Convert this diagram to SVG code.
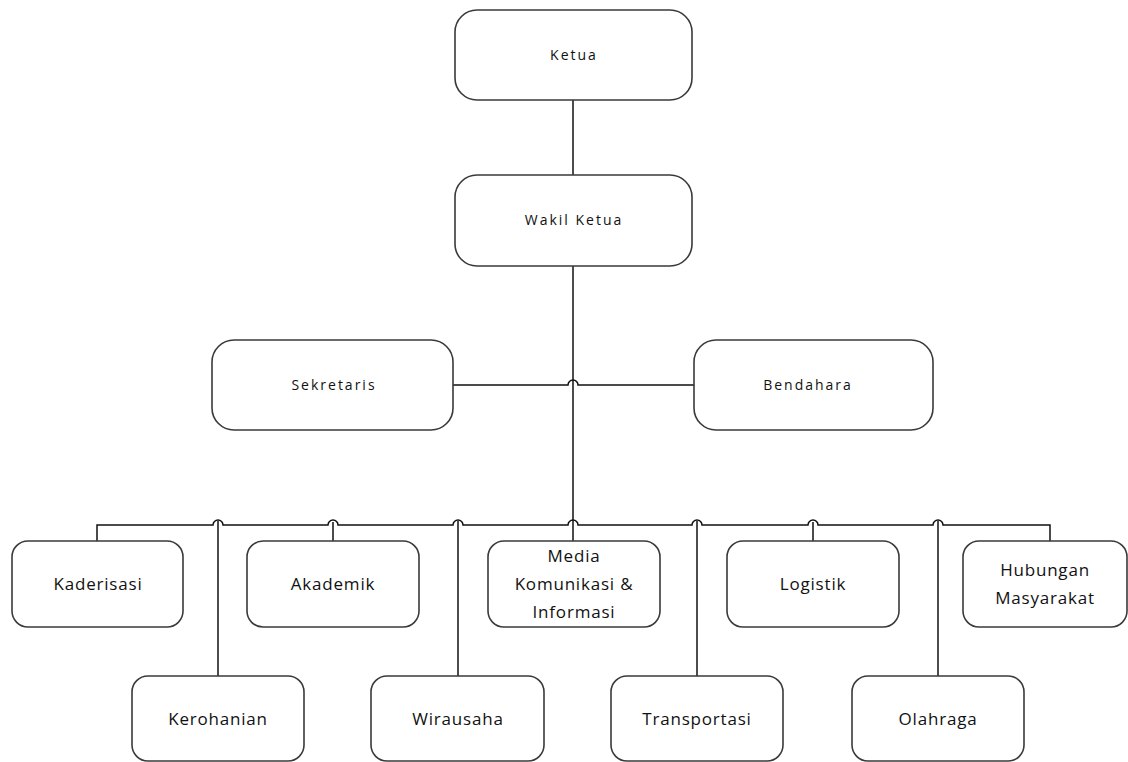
<svg xmlns="http://www.w3.org/2000/svg" width="1128" height="762" viewBox="0 0 1128 762">
<style>
.box{fill:#ffffff;stroke:#3a3a3a;stroke-width:1.6}
.t1{font-family:"Open Sans","Noto Sans",sans-serif;font-size:14px;letter-spacing:2px;fill:#111;text-anchor:middle}
.t2{font-family:"Open Sans","Noto Sans",sans-serif;font-size:17px;letter-spacing:0.8px;fill:#111;text-anchor:middle}
.ln{fill:none;stroke:#111;stroke-width:1.5}
</style>
<rect width="1128" height="762" fill="#ffffff"/>
<g id="connectors">
<path class="ln" d="M573,100 V175"/>
<path class="ln" d="M573,266 V525"/>
<path class="ln" d="M453,385 H568 a5,5 0 0 1 10,0 H694"/>
<path class="ln" d="M97,541 V525 H213 a5,5 0 0 1 10,0 H328 a5,5 0 0 1 10,0 H453 a5,5 0 0 1 10,0 H568 a5,5 0 0 1 10,0 H692 a5,5 0 0 1 10,0 H808 a5,5 0 0 1 10,0 H933 a5,5 0 0 1 10,0 H1050 V541"/>
<path class="ln" d="M333,522 V541"/>
<path class="ln" d="M573,525 V541"/>
<path class="ln" d="M813,522 V541"/>
<path class="ln" d="M218,521 V676"/>
<path class="ln" d="M458,521 V676"/>
<path class="ln" d="M697,521 V676"/>
<path class="ln" d="M938,521 V676"/>
</g>
<g id="ketua"><rect class="box" x="455" y="10" width="237" height="90" rx="22"/><text class="t1" x="574" y="60">Ketua</text></g>
<g id="wakil-ketua"><rect class="box" x="455" y="175" width="237" height="91" rx="22"/><text class="t1" x="574" y="225">Wakil Ketua</text></g>
<g id="sekretaris"><rect class="box" x="212" y="340" width="241" height="90" rx="22"/><text class="t1" x="334" y="390">Sekretaris</text></g>
<g id="bendahara"><rect class="box" x="694" y="340" width="239" height="90" rx="22"/><text class="t1" x="808" y="390">Bendahara</text></g>
<g id="kaderisasi"><rect class="box" x="12" y="541" width="171" height="86" rx="16"/><text class="t2" x="98" y="590">Kaderisasi</text></g>
<g id="akademik"><rect class="box" x="247" y="541" width="172" height="86" rx="16"/><text class="t2" x="333" y="590">Akademik</text></g>
<g id="media"><rect class="box" x="488" y="541" width="172" height="86" rx="16"/><text class="t2" x="574" y="562">Media</text><text class="t2" x="574" y="590">Komunikasi &amp;</text><text class="t2" x="574" y="618">Informasi</text></g>
<g id="logistik"><rect class="box" x="727" y="541" width="172" height="86" rx="16"/><text class="t2" x="813" y="590">Logistik</text></g>
<g id="hubungan-masyarakat"><rect class="box" x="963" y="541" width="164" height="86" rx="16"/><text class="t2" x="1045" y="576">Hubungan</text><text class="t2" x="1045" y="604">Masyarakat</text></g>
<g id="kerohanian"><rect class="box" x="132" y="676" width="172" height="85" rx="16"/><text class="t2" x="218" y="725">Kerohanian</text></g>
<g id="wirausaha"><rect class="box" x="371" y="676" width="173" height="85" rx="16"/><text class="t2" x="458" y="725">Wirausaha</text></g>
<g id="transportasi"><rect class="box" x="611" y="676" width="172" height="85" rx="16"/><text class="t2" x="697" y="725">Transportasi</text></g>
<g id="olahraga"><rect class="box" x="852" y="676" width="172" height="85" rx="16"/><text class="t2" x="938" y="725">Olahraga</text></g>
</svg>
